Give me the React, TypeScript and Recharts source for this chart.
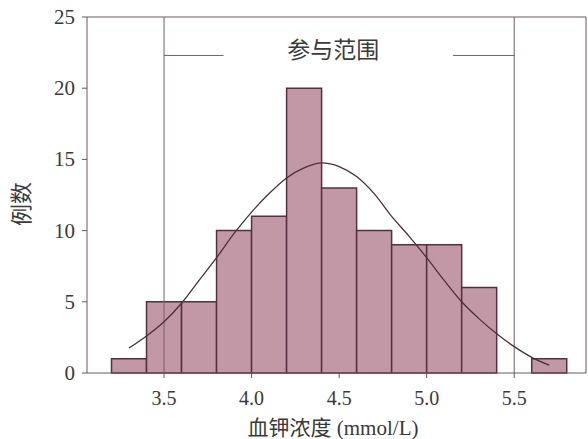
import React from "react";
import {
  ComposedChart, Bar, Line, XAxis, YAxis, ReferenceLine, ReferenceDot, Label,
} from "recharts";

// histogram bins (mmol/L), width 0.2
const binStarts = [3.2, 3.4, 3.6, 3.8, 4.0, 4.2, 4.4, 4.6, 4.8, 5.0, 5.2, 5.4, 5.6];
const binCounts = [1, 5, 5, 10, 11, 20, 13, 10, 9, 9, 6, 0, 1];
const binWidth = 0.2;

// fitted normal curve
const curveX = [3.3, 3.4, 3.5, 3.6, 3.7, 3.8, 3.9, 4.0, 4.1, 4.2, 4.3, 4.4, 4.5,
  4.6, 4.7, 4.8, 4.9, 5.0, 5.1, 5.2, 5.3, 5.4, 5.5, 5.6, 5.7];
const curveY = [1.75, 2.6, 3.6, 4.9, 6.5, 8.1, 9.8, 11.3, 12.6, 13.7, 14.4, 14.75, 14.5,
  13.8, 12.6, 11.0, 9.6, 8.1, 6.5, 5.0, 3.8, 2.75, 1.85, 1.1, 0.55];

const xTicks = [3.5, 4.0, 4.5, 5.0, 5.5];
const yTicks = [0, 5, 10, 15, 20, 25];
const xDomain = [3.06, 5.91];

// reference range annotation
const refLow = 3.5;
const refHigh = 5.5;
const refLabel = "参与范围";
const refLabelX = 4.466;
const refLabelY = 22.7;
const refBarY = 22.3;
const refBarInnerLow = 3.84;
const refBarInnerHigh = 5.15;

const binData = binStarts.map((s, i) => ({
  mid: +(s + binWidth / 2).toFixed(2),
  count: binCounts[i],
}));
const curveData = curveX.map((x, i) => ({ x, y: curveY[i] }));

const SERIF = "Liberation Serif, Noto Sans CJK SC, serif";
const INK = "#6e5460";
const TEXT = "#3a3a3a";

const XTick = (p: any) => (
  <text x={p.x} y={p.y + 21} textAnchor="middle" fill={TEXT} fontSize={20} fontFamily="Liberation Serif">
    {Number(p.payload.value).toFixed(1)}
  </text>
);

const YTick = (p: any) => (
  <text x={p.x} y={p.y} textAnchor="end" dominantBaseline="central" fill={TEXT} fontSize={21} fontFamily="Liberation Serif">
    {p.payload.value}
  </text>
);

export default function App() {
  return (
    <div style={{ position: "absolute", left: 0, top: 0, background: "#fff", fontFamily: SERIF }}>
      <ComposedChart
        width={588}
        height={439}
        data={binData}
        margin={{ top: 17, right: 2, left: 0, bottom: 0 }}
        barCategoryGap={0}
        barGap={0}
      >
        <XAxis
          xAxisId="bins"
          dataKey="mid"
          type="number"
          domain={xDomain}
          allowDataOverflow
          ticks={xTicks}
          height={66}
          tickSize={5}
          tickMargin={6}
          stroke={INK}
          tick={XTick}
        >
          <Label
            content={() => (
              <text x={333} y={435} textAnchor="middle" fill={TEXT} fontSize={21} fontFamily={SERIF}>
                血钾浓度 (mmol/L)
              </text>
            )}
          />
        </XAxis>
        <XAxis xAxisId="curve" dataKey="x" type="number" domain={xDomain} allowDataOverflow hide />
        <YAxis
          domain={[0, 25]}
          ticks={yTicks}
          width={87}
          tickSize={5}
          tickMargin={7}
          stroke={INK}
          tick={YTick}
        >
          <Label
            content={() => (
              <text
                x={21}
                y={204}
                transform="rotate(-90 21 204)"
                textAnchor="middle"
                dominantBaseline="central"
                fill={TEXT}
                fontSize={22}
                fontFamily={SERIF}
              >
                例数
              </text>
            )}
          />
        </YAxis>

        {/* frame top and right */}
        <ReferenceLine xAxisId="bins" y={25} stroke={INK} strokeWidth={1} />
        <ReferenceLine xAxisId="bins" x={xDomain[1]} stroke={INK} strokeWidth={1} />

        <Bar
          xAxisId="bins"
          dataKey="count"
          fill="#c398a6"
          stroke="#553040"
          strokeWidth={1.5}
          isAnimationActive={false}
        />

        <ReferenceLine xAxisId="bins" x={refLow} stroke="#75606a" strokeWidth={1} />
        <ReferenceLine xAxisId="bins" x={refHigh} stroke="#75606a" strokeWidth={1} />
        <ReferenceLine
          xAxisId="bins"
          segment={[{ x: refLow, y: refBarY }, { x: refBarInnerLow, y: refBarY }]}
          stroke="#75606a"
          strokeWidth={1}
        />
        <ReferenceLine
          xAxisId="bins"
          segment={[{ x: refBarInnerHigh, y: refBarY }, { x: refHigh, y: refBarY }]}
          stroke="#75606a"
          strokeWidth={1}
        />
        <ReferenceDot
          xAxisId="bins"
          x={refLabelX}
          y={refLabelY}
          r={0}
          fill="none"
          stroke="none"
          label={{ value: refLabel, position: "center", fill: TEXT, fontSize: 23, fontFamily: SERIF }}
        />

        <Line
          xAxisId="curve"
          data={curveData}
          dataKey="y"
          type="monotone"
          stroke="#4a3038"
          strokeWidth={1.3}
          dot={false}
          isAnimationActive={false}
        />
      </ComposedChart>
    </div>
  );
}
